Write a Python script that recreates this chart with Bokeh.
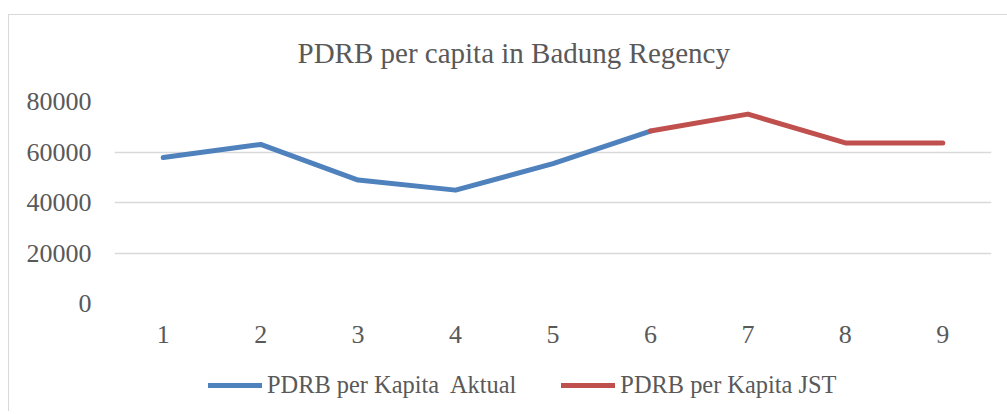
from bokeh.plotting import figure
from bokeh.layouts import column
from bokeh.models import Range1d, FixedTicker, Legend, LegendItem, Label
from bokeh.embed import file_html
from bokeh.resources import INLINE

# ---- data ----
categories = [1, 2, 3, 4, 5, 6, 7, 8, 9]
aktual_x = [1, 2, 3, 4, 5, 6]
aktual_y = [57800, 63000, 48900, 44900, 55400, 68300]
jst_x = [6, 7, 8, 9]
jst_y = [68300, 75000, 63600, 63600]
y_ticks = [0, 20000, 40000, 60000, 80000]
title_text = "PDRB per capita in Badung Regency"
label_aktual = "PDRB per Kapita  Aktual"
label_jst = "PDRB per Kapita JST"

TEXT = "#595959"
GRID = "#d9d9d9"
FONT = "Liberation Serif"
BLUE = "#4f81bd"
RED = "#c0504d"


def strip(height, **kw):
    f = figure(width=998, height=height, output_backend="svg",
               toolbar_location=None, x_axis_location=None,
               y_axis_location=None, min_border=0, **kw)
    f.outline_line_color = None
    f.xgrid.grid_line_color = None
    f.ygrid.grid_line_color = None
    f.background_fill_color = "white"
    f.border_fill_color = "white"
    return f


# title strip
pt = strip(70)
pt.add_layout(Label(x=183, y=33, x_units="screen", y_units="screen",
                    text=title_text, text_font=FONT, text_font_size="29px",
                    text_color=TEXT, text_baseline="alphabetic"))

# main chart
p = figure(width=998, height=270, output_backend="svg", toolbar_location=None,
           x_range=Range1d(0.5, 9.5), y_range=Range1d(0, 80000),
           min_border_left=105, min_border_right=16, min_border_top=16,
           min_border_bottom=52)
p.outline_line_color = None
p.background_fill_color = "white"
p.border_fill_color = "white"

p.xgrid.grid_line_color = None
p.ygrid.grid_line_color = GRID
p.ygrid.grid_line_width = 1.3

p.yaxis.ticker = FixedTicker(ticks=y_ticks)
p.xaxis.ticker = FixedTicker(ticks=categories)
for ax in (p.xaxis[0], p.yaxis[0]):
    ax.axis_line_color = None
    ax.major_tick_line_color = None
    ax.minor_tick_line_color = None
    ax.major_label_text_font = FONT
    ax.major_label_text_font_size = "26px"
    ax.major_label_text_color = TEXT
p.yaxis.major_label_standoff = 17
p.xaxis.major_label_standoff = 16

p.line(aktual_x, aktual_y, line_color=BLUE, line_width=5,
       line_cap="round", line_join="round")
p.line(jst_x, jst_y, line_color=RED, line_width=5,
       line_cap="round", line_join="round")

# legend strip below the chart (its own copies of the series, kept out of view)
p2 = strip(56, x_range=Range1d(100, 101), y_range=Range1d(-2, -1))
l1 = p2.line(aktual_x, aktual_y, line_color=BLUE, line_width=5, line_cap="round")
l2 = p2.line(jst_x, jst_y, line_color=RED, line_width=5, line_cap="round")
legend = Legend(items=[LegendItem(label=label_aktual, renderers=[l1]),
                       LegendItem(label=label_jst, renderers=[l2])],
                orientation="horizontal", location=(94, 12),
                label_text_font=FONT, label_text_font_size="24.4px",
                label_text_color=TEXT, glyph_width=54, label_standoff=5,
                spacing=45, border_line_color=None, padding=0, margin=0,
                background_fill_alpha=0)
p2.add_layout(legend)

layout = column(pt, p, p2, spacing=0, margin=(14, 0, 0, 8),
                styles={"border-left": "1px solid #d9d9d9",
                        "border-top": "1px solid #d9d9d9"})

open("out.html", "w").write(file_html(layout, INLINE))
